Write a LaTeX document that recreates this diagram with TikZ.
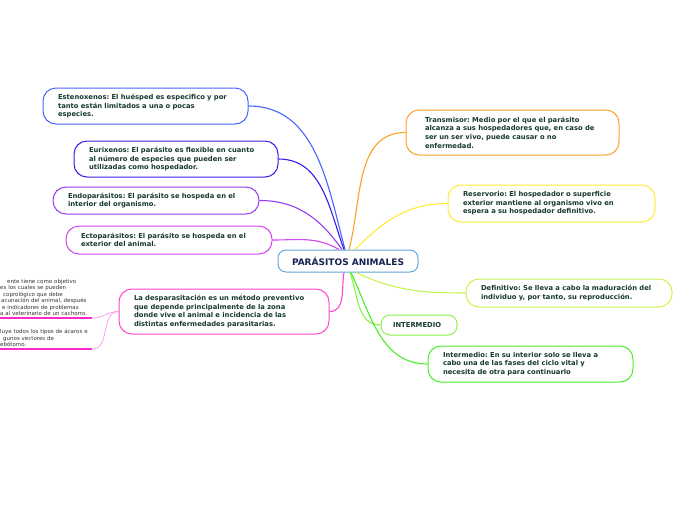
\documentclass[tikz,border=0pt]{standalone}
\usepackage{fontspec}
\setmainfont{DejaVu Sans}
\usepackage{tikz}
\usetikzlibrary{positioning, calc}

\definecolor{txtgreen}{RGB}{22,58,40}
\definecolor{rootblue}{RGB}{100,165,220}
\definecolor{rootnavy}{RGB}{22,34,80}
\definecolor{cesten}{RGB}{70,100,255}
\definecolor{ceurix}{RGB}{50,30,230}
\definecolor{cendo}{RGB}{150,60,240}
\definecolor{cecto}{RGB}{210,70,240}
\definecolor{cdesp}{RGB}{255,70,210}
\definecolor{csubline}{RGB}{255,40,200}
\definecolor{csubcurve}{RGB}{255,150,230}
\definecolor{ctrans}{RGB}{255,160,40}
\definecolor{creserv}{RGB}{255,235,50}
\definecolor{cdefin}{RGB}{200,245,80}
\definecolor{cinterm}{RGB}{140,240,70}
\definecolor{cintermed}{RGB}{70,240,40}

\frenchspacing

\begin{document}
\begin{tikzpicture}[
    x=1pt, y=1pt,
    every node/.style={font=\bfseries\fontsize{6.8}{8.6}\selectfont, text=txtgreen},
    topic/.style={draw, line width=1pt, rounded corners=13pt, align=left, inner xsep=15pt, inner ysep=0pt},
    subtext/.style={font=\fontsize{5.5}{6.5}\selectfont, text=black!80, align=left, inner xsep=0pt, inner ysep=2pt},
    link/.style={line width=1.1pt},
]

\useasboundingbox (0,0) rectangle (696,-520);

% =========================================================
% Central topic
% =========================================================
\node[draw=rootblue, line width=1pt, rounded corners=8pt, minimum width=140pt, minimum height=22pt,
      font=\bfseries\fontsize{9}{10}\selectfont, text=rootnavy] (root) at (348,-261) {PARÁSITOS ANIMALES};

% =========================================================
% Left branches
% =========================================================
\node[topic, draw=cesten, text width=175pt, minimum height=36pt] (esten) at (145.5,-106)
    {Estenoxenos: El huésped es especifico y por\\ tanto están limitados a una o pocas\\ especies.};
\node[topic, draw=ceurix, text width=174pt, minimum height=36pt] (eurix) at (176,-159)
    {Eurixenos: El parásito es flexible en cuanto\\ al número de especies que pueden ser\\ utilizadas como hospedador.};
\node[topic, draw=cendo, text width=176pt, minimum height=27pt] (endo) at (156,-200.5)
    {Endoparásitos: El parásito se hospeda en el\\ interior del organismo.};
\node[topic, draw=cecto, text width=176pt, minimum height=28pt] (ecto) at (169,-240)
    {Ectoparásitos: El parásito se hospeda en el\\ exterior del animal.};
\node[topic, draw=cdesp, text width=180pt, minimum height=45pt] (desp) at (224,-311.5)
    {La desparasitación es un método preventivo\\ que depende principalmente de la zona\\ donde vive el animal e incidencia de las\\ distintas enfermedades parasitarias.};

% Left branches -> root
\draw[link, cesten] (esten.east) to[out=0, in=105] ([xshift=-3pt]root.north);
\draw[link, ceurix] (eurix.east) to[out=0, in=110] ([xshift=-4pt]root.north);
\draw[link, cendo] (endo.east) to[out=0, in=125] ([xshift=-6pt]root.north);
\draw[link, cecto] (ecto.east) to[out=0, in=150] ([xshift=-9pt]root.north);
\draw[link, cdesp] (desp.east) to[out=0, in=-100] ([xshift=-4pt]root.south);

% Sub-topics of the deworming node (cut at the edge)
\node[subtext, text width=92pt, anchor=south west] (subA) at (0,-318)
    {\hspace*{7pt}ente tiene como objetivo\\ es los cuales se pueden\\ \hspace*{3pt}coprológico que debe\\ \hspace*{1pt}acunación del animal, después\\ \hspace*{2pt}e indicadores de problemas\\ a al veterinario de un cachorro.};
\node[subtext, text width=92pt, anchor=south west] (subB) at (0,-349)
    {luye todos los tipos de ácaros e\\ \hspace*{3pt}gunos vectores de\\ ebótomo.};

\draw[line width=1.3pt, csubline] (subA.south west) -- (subA.south east);
\draw[line width=1.3pt, csubline] (subB.south west) -- (subB.south east);
\draw[line width=0.7pt, csubcurve] (subA.south east) to[out=0, in=180] (desp.west);
\draw[line width=0.7pt, csubcurve] (subB.south east) to[out=0, in=180] (desp.west);

% =========================================================
% Right branches
% =========================================================
\node[topic, draw=ctrans, text width=183pt, minimum height=45pt, inner xsep=15pt] (trans) at (512.5,-132.5)
    {\hspace*{4pt}Transmisor: Medio por el que el parásito\\ \hspace*{4pt}alcanza a sus hospedadores que, en caso de\\ \hspace*{4pt}ser un ser vivo, puede causar o no\\ \hspace*{4pt}enfermedad.};
\node[topic, draw=creserv, text width=177pt, minimum height=37pt] (reserv) at (551.5,-203.5)
    {Reservorio: El hospedador o superficie\\ exterior mantiene al organismo vivo en\\ espera a su hospedador definitivo.};
\node[topic, draw=cdefin, text width=176pt, minimum height=28pt] (defin) at (569,-293)
    {Definitivo: Se lleva a cabo la maduración del\\ individuo y, por tanto, su reproducción.};
\node[topic, draw=cinterm, text width=52pt, minimum height=20pt, inner xsep=12pt, rounded corners=9pt] (interm) at (419,-325)
    {INTERMEDIO};
\node[topic, draw=cintermed, text width=175pt, minimum height=36pt] (intermed) at (530.5,-364)
    {Intermedio: En su interior solo se lleva a\\ cabo una de las fases del ciclo vital y\\ necesita de otra para continuarlo};

% Right branches -> root
\draw[link, ctrans] (trans.west) to[out=180, in=75] ([xshift=1pt]root.north);
\draw[link, creserv] (reserv.west) to[out=180, in=45] ([xshift=7pt]root.north);
\draw[link, cdefin] (defin.west) to[out=180, in=-25] ([xshift=8pt]root.south);
\draw[link, cinterm] (interm.west) to[out=180, in=-70] ([xshift=2pt]root.south);
\draw[link, cintermed] (intermed.west) to[out=180, in=-65] ([xshift=3pt]root.south);

\end{tikzpicture}
\end{document}
